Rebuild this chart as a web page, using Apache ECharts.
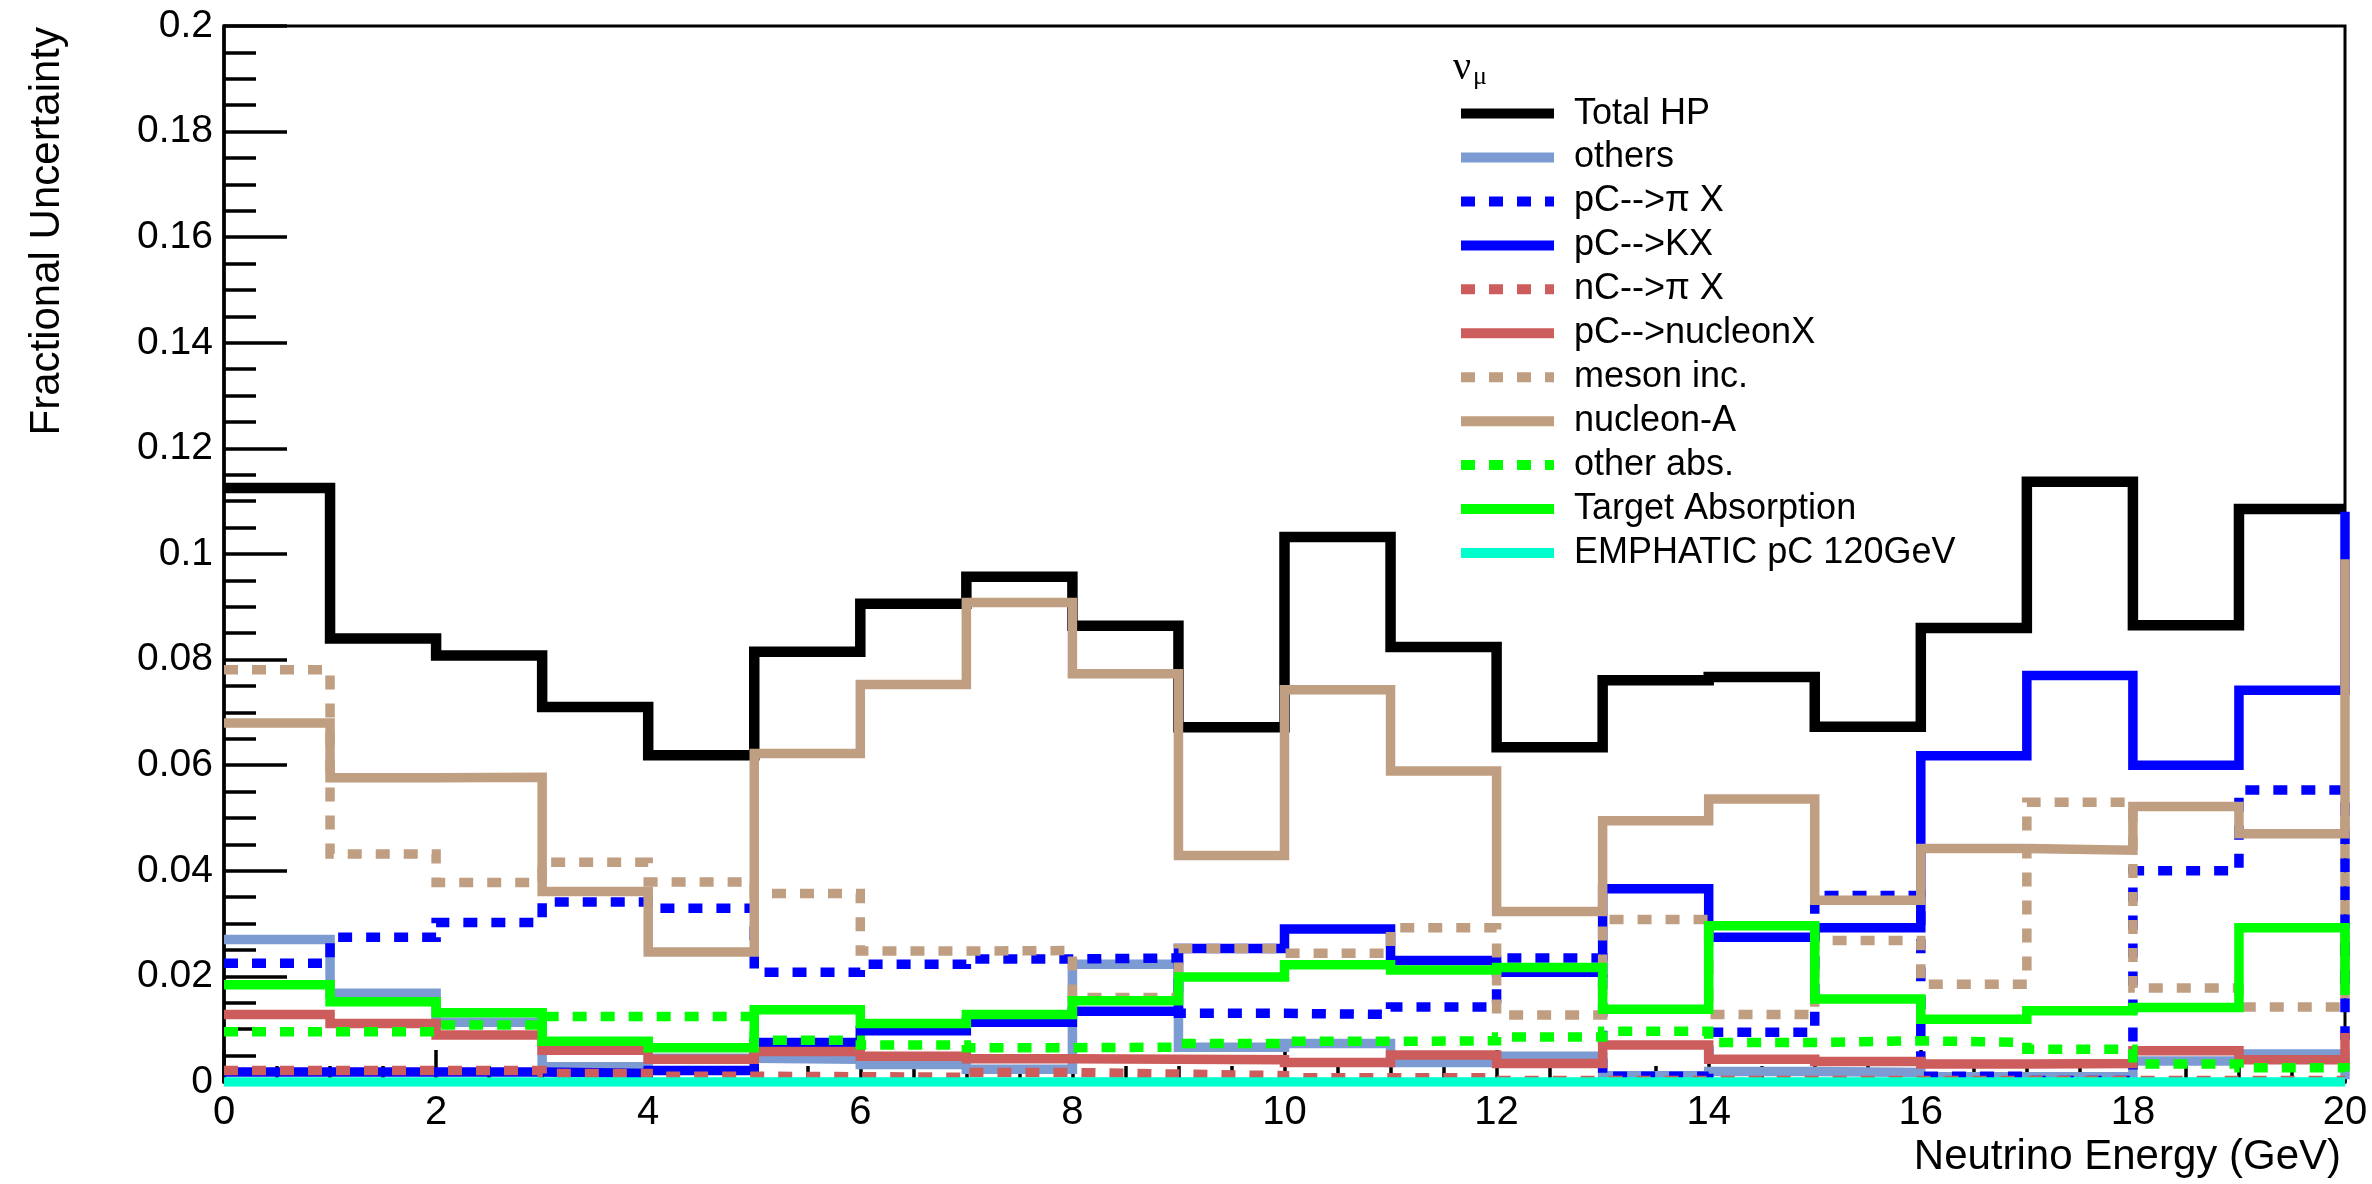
<!DOCTYPE html>
<html><head><meta charset="utf-8">
<script src="https://cdn.jsdelivr.net/npm/echarts@6.0.0/dist/echarts.min.js"></script>
<style>html,body{margin:0;padding:0;background:#fff}#c{width:2372px;height:1184px}</style>
</head><body><div id="c"></div>
<script>
// Bin low edges (GeV); the last entry (20) carries the overflow value, clipped by the frame
const binEdges = [0,1,2,3,4,5,6,7,8,9,10,11,12,13,14,15,16,17,18,19,20];

const totalHP    = [0.1125,0.0840,0.0808,0.0710,0.0619,0.0815,0.0906,0.0957,0.0864,0.0672,0.1032,0.0824,0.0634,0.0761,0.0767,0.0673,0.0860,0.1137,0.0865,0.1085,0.1085];
const others     = [0.0270,0.0168,0.0113,0.0029,0.0045,0.0043,0.0033,0.0024,0.0223,0.0066,0.0073,0.0037,0.0049,0.0012,0.0020,0.0018,0.0010,0.0010,0.0040,0.0053,0.0005];
const pCpiX      = [0.0225,0.0274,0.0302,0.0341,0.0329,0.0208,0.0223,0.0233,0.0235,0.0130,0.0128,0.0142,0.0235,0.0011,0.0094,0.0353,0.0011,0.0003,0.0400,0.0553,0.0080];
const pCKX       = [0.0019,0.0019,0.0019,0.0016,0.0022,0.0075,0.0097,0.0113,0.0134,0.0253,0.0290,0.0230,0.0208,0.0366,0.0274,0.0292,0.0618,0.0770,0.0600,0.0742,0.1080];
const nCpiX      = [0.0022,0.0022,0.0022,0.0016,0.0011,0.0010,0.0009,0.0018,0.0015,0.0012,0.0008,0.0008,0.0003,0.0003,0.0003,0.0003,0.0003,0.0003,0.0003,0.0003,0.0002];
const pCnucleonX = [0.0128,0.0111,0.0089,0.0060,0.0043,0.0058,0.0049,0.0044,0.0043,0.0042,0.0037,0.0051,0.0035,0.0070,0.0043,0.0039,0.0034,0.0035,0.0059,0.0042,0.0093];
const mesonInc   = [0.0781,0.0432,0.0378,0.0416,0.0379,0.0357,0.0248,0.0249,0.0160,0.0253,0.0244,0.0292,0.0127,0.0308,0.0128,0.0268,0.0185,0.0530,0.0178,0.0142,0.0500];
const nucleonA   = [0.0680,0.0576,0.0577,0.0361,0.0246,0.0622,0.0753,0.0908,0.0773,0.0429,0.0743,0.0589,0.0323,0.0495,0.0536,0.0344,0.0442,0.0439,0.0522,0.0470,0.0990];
const otherAbs   = [0.0095,0.0095,0.0108,0.0124,0.0124,0.0079,0.0070,0.0065,0.0066,0.0073,0.0077,0.0078,0.0085,0.0096,0.0075,0.0078,0.0075,0.0062,0.0034,0.0027,0.0020];
const targetAbs  = [0.0184,0.0152,0.0131,0.0077,0.0065,0.0137,0.0111,0.0128,0.0154,0.0199,0.0222,0.0212,0.0217,0.0138,0.0296,0.0157,0.0119,0.0135,0.0141,0.0292,0.0165];
const emphatic   = [0,0,0,0,0,0,0,0,0,0,0,0,0,0,0,0,0,0,0,0,0];

const seriesNames  = ['Total HP','others','pC-->\u03c0 X','pC-->KX','nC-->\u03c0 X','pC-->nucleonX','meson inc.','nucleon-A','other abs.','Target Absorption','EMPHATIC pC 120GeV'];
const seriesValues = [totalHP, others, pCpiX, pCKX, nCpiX, pCnucleonX, mesonInc, nucleonA, otherAbs, targetAbs, emphatic];

const xAxisTitle = 'Neutrino Energy (GeV)';
const yAxisTitle = 'Fractional Uncertainty';

// styles
const seriesColors = ['#000000','#7b9bd2','#0000ff','#0000ff','#cd5c5c','#cd5c5c','#bf9e82','#bf9e82','#00ff00','#00ff00','#00ffcc'];
const seriesDashed = [false,false,true,false,true,false,true,false,true,false,false];
const FONT = '"Liberation Sans", Arial, Helvetica, sans-serif';
const solidIcon = 'path://M0,0H93V10H0Z';
const dashIcon  = 'path://M0,0H14V10H0Z M28,0H42V10H28Z M56,0H70V10H56Z M84,0H93V10H84Z';

const chart = echarts.init(document.getElementById('c'), null, {renderer: 'canvas'});

const series = seriesNames.map((name, k) => ({
  name: name,
  type: 'line',
  step: 'end',
  symbol: 'none',
  clip: true,
  data: seriesValues[k].map((v, i) => [binEdges[i], v]),
  lineStyle: {
    color: seriesColors[k],
    width: k === 0 ? 10.5 : 9.5,
    type: seriesDashed[k] ? [14, 14] : 'solid',
    cap: 'butt',
    join: 'miter'
  },
  itemStyle: {color: seriesColors[k]},
  emphasis: {disabled: true},
  animation: false
}));

chart.setOption({
  animation: false,
  backgroundColor: '#ffffff',
  grid: {left: 224, right: 27, top: 26, bottom: 102, show: true, borderColor: '#000', borderWidth: 3, containLabel: false},
  xAxis: {
    type: 'value', min: 0, max: 20, interval: 2,
    axisLine: {show: true, onZero: false, lineStyle: {color: '#000', width: 3.5}},
    axisTick: {show: true, inside: true, length: 32, lineStyle: {color: '#000', width: 3.5}},
    minorTick: {show: true, splitNumber: 4, length: 16, lineStyle: {color: '#000', width: 3.5}},
    axisLabel: {color: '#000', fontSize: 40, fontFamily: FONT, margin: 11},
    splitLine: {show: false}, minorSplitLine: {show: false}
  },
  yAxis: {
    type: 'value', min: 0, max: 0.2, interval: 0.02,
    axisLine: {show: true, onZero: false, lineStyle: {color: '#000', width: 3.5}},
    axisTick: {show: true, inside: true, length: 63, lineStyle: {color: '#000', width: 3.5}},
    minorTick: {show: true, splitNumber: 4, length: 32, lineStyle: {color: '#000', width: 3.5}},
    axisLabel: {color: '#000', fontSize: 39, fontFamily: FONT, margin: 11,
      formatter: v => String(+v.toFixed(2))},
    splitLine: {show: false}, minorSplitLine: {show: false}
  },
  legend: {
    orient: 'vertical', left: 1461, top: 93.6, padding: 0,
    itemWidth: 93, itemHeight: 10, itemGap: 3.94,
    symbolKeepAspect: false, selectedMode: false,
    itemStyle: {borderWidth: 0},
    textStyle: {color: '#000', fontSize: 36, fontFamily: FONT, lineHeight: 40, padding: [0, 0, 0, 15]},
    data: seriesNames.map((n, k) => ({name: n, icon: seriesDashed[k] ? dashIcon : solidIcon}))
  },
  graphic: [
    {type: 'text', z: 101, x: 47, y: 27, rotation: Math.PI / 2,
     style: {text: yAxisTitle, font: '42px ' + FONT, fill: '#000', textAlign: 'right', align: 'right', textVerticalAlign: 'middle', verticalAlign: 'middle'}},
    {type: 'text', z: 101, x: 2341, y: 1157,
     style: {text: xAxisTitle, font: '42px ' + FONT, fill: '#000', textAlign: 'right', align: 'right', textVerticalAlign: 'middle', verticalAlign: 'middle'}},
    {type: 'text', z: 101, x: 1453, y: 68,
     style: {text: '\u03bd', font: '40px "Liberation Serif", serif', fill: '#000', textAlign: 'left', align: 'left', textVerticalAlign: 'middle', verticalAlign: 'middle'}},
    {type: 'text', z: 101, x: 1473, y: 77,
     style: {text: '\u03bc', font: '26px "Liberation Serif", serif', fill: '#000', textAlign: 'left', align: 'left', textVerticalAlign: 'middle', verticalAlign: 'middle'}}
  ],
  series: series
});
</script>
</body></html>
